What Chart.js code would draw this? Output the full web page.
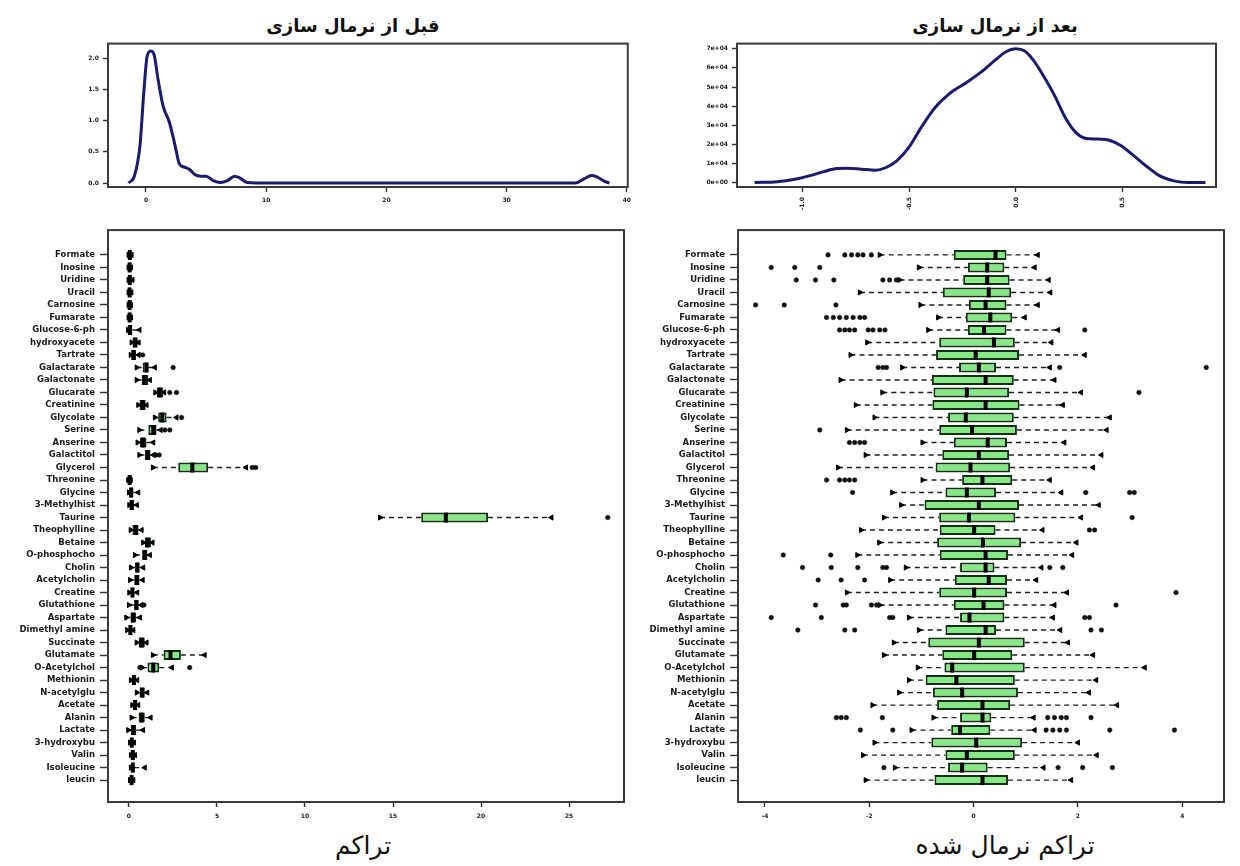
<!DOCTYPE html>
<html>
<head>
<meta charset="utf-8">
<script src="https://cdn.jsdelivr.net/npm/chart.js"></script>
<style>
html,body{margin:0;padding:0;background:#fff;width:1240px;height:866px;overflow:hidden;position:relative}
canvas{position:absolute}
.t{position:absolute;font-family:"DejaVu Sans",sans-serif;color:#111;text-align:center;white-space:nowrap}
</style>
</head>
<body>
<div class="t" dir="rtl" style="left:203px;top:15px;width:300px;font-size:18px;font-weight:bold">قبل از نرمال سازی</div>
<div class="t" dir="rtl" style="left:845px;top:15px;width:300px;font-size:18px;font-weight:bold">بعد از نرمال سازی</div>
<div class="t" dir="rtl" style="left:213px;top:831px;width:300px;font-size:25px">تراکم</div>
<div class="t" dir="rtl" style="left:855px;top:831px;width:300px;font-size:25px">تراکم نرمال شده</div>

<canvas id="c1" width="578" height="181" style="left:58px;top:36px"></canvas>
<canvas id="c2" width="547" height="181" style="left:677px;top:36px"></canvas>
<canvas id="c3" width="633" height="614" style="left:0px;top:220px"></canvas>
<canvas id="c4" width="603" height="614" style="left:630px;top:220px"></canvas>

<script>
// ---------- categories ----------
const metabolites = ["Formate","Inosine","Uridine","Uracil","Carnosine","Fumarate","Glucose-6-ph","hydroxyacete","Tartrate","Galactarate","Galactonate","Glucarate","Creatinine","Glycolate","Serine","Anserine","Galactitol","Glycerol","Threonine","Glycine","3-Methylhist","Taurine","Theophylline","Betaine","O-phosphocho","Cholin","Acetylcholin","Creatine","Glutathione","Aspartate","Dimethyl amine","Succinate","Glutamate","O-Acetylchol","Methionin","N-acetylglu","Acetate","Alanin","Lactate","3-hydroxybu","Valin","Isoleucine","leucin"];

// ---------- raw concentration box plot (left) ----------
const rawLow    = [-0.02,-0.02,-0.02,-0.02,-0.02,-0.02,-0.05,0.15,0.10,0.44,0.44,1.50,0.53,1.47,0.59,0.49,0.59,1.36,-0.04,0.00,0.02,14.26,0.10,0.81,0.34,0.11,0.06,0.02,0.00,-0.15,-0.10,0.44,1.36,0.75,0.11,0.45,0.19,0.15,-0.04,0.06,0.11,0.11,0.06];
const rawQ1     = [0,0,0,0,0,0,0,0.20,0.15,0.78,0.72,1.57,0.60,1.66,1.10,0.62,0.91,2.80,0,0.02,0.05,16.60,0.20,0.90,0.75,0.35,0.30,0.10,0.30,0.10,0,0.55,1.97,1.05,0.20,0.60,0.25,0.55,0.10,0.10,0.15,0.15,0.10];
const rawMedian = [0.05,0.04,0.05,0.04,0.04,0.04,0.05,0.35,0.25,1.00,0.90,1.75,0.78,1.89,1.38,0.80,1.06,3.60,0.04,0.12,0.15,18.00,0.40,1.05,0.90,0.48,0.45,0.20,0.42,0.22,0.08,0.72,2.36,1.38,0.28,0.75,0.35,0.72,0.25,0.16,0.22,0.22,0.15];
const rawQ3     = [0.10,0.08,0.10,0.08,0.08,0.08,0.20,0.50,0.40,1.10,1.10,1.95,0.95,2.14,1.57,1.00,1.23,4.50,0.08,0.25,0.30,20.40,0.55,1.25,1.05,0.60,0.60,0.30,0.55,0.40,0.15,0.90,2.95,1.72,0.35,0.90,0.45,0.90,0.40,0.22,0.28,0.30,0.20];
const rawHigh   = [0.15,0.12,0.20,0.14,0.12,0.12,0.60,0.55,0.55,1.47,1.19,2.00,1.00,2.70,1.80,1.38,1.40,6.65,0.10,0.53,0.45,24.00,0.72,1.34,1.19,0.81,0.78,0.47,0.70,0.62,0.25,1.00,4.30,2.44,0.47,1.04,0.53,1.23,0.80,0.28,0.34,0.90,0.25];
const rawOutliers = [[],[],[],[],[],[],[],[],[0.78],[2.51],[],[2.32,2.70],[],[2.99],[2.04,2.32],[],[1.53,1.72],[7.0,7.2],[],[],[],[27.2],[],[],[],[],[],[],[0.85],[],[],[],[],[0.62,3.45],[],[],[],[],[],[],[],[],[]];
const rawBoxTicks = [0,5,10,15,20,25];

// ---------- normalized box plot (right) ----------
const normLow    = [-1.80,-1.05,-1.42,-2.18,-1.02,-0.68,-0.87,-2.04,-2.36,-1.37,-2.55,-1.75,-2.26,-1.90,-2.43,-0.98,-2.07,-2.60,-0.98,-1.56,-1.39,-1.72,-2.16,-1.81,-2.23,-1.30,-1.60,-2.43,-1.80,-1.24,-1.05,-1.53,-1.72,-1.07,-1.24,-1.43,-1.94,-0.77,-1.19,-1.90,-2.12,-1.51,-2.07];
const normQ1     = [-0.38,-0.11,-0.20,-0.59,-0.09,-0.15,-0.11,-0.66,-0.72,-0.28,-0.80,-0.77,-0.79,-0.49,-0.66,-0.38,-0.60,-0.73,-0.22,-0.54,-0.94,-0.66,-0.65,-0.70,-0.65,-0.26,-0.36,-0.66,-0.38,-0.26,-0.54,-0.87,-0.60,-0.56,-0.92,-0.78,-0.70,-0.26,-0.43,-0.81,-0.54,-0.49,-0.75];
const normMedian = [0.42,0.26,0.26,0.29,0.23,0.32,0.20,0.39,0.04,0.10,0.23,-0.13,0.23,-0.15,-0.03,0.27,0.10,-0.06,0.17,-0.13,0.10,-0.09,0.01,0.18,0.23,0.23,0.29,0.01,0.19,-0.08,0.23,0.10,0.01,-0.41,-0.33,-0.22,0.17,0.17,-0.26,0.05,-0.13,-0.22,0.17];
const normQ3     = [0.63,0.59,0.69,0.72,0.63,0.74,0.63,0.79,0.87,0.43,0.77,0.68,0.88,0.77,0.83,0.64,0.68,0.70,0.74,0.43,0.87,0.80,0.42,0.91,0.66,0.40,0.64,0.64,0.59,0.59,0.43,0.98,0.74,0.98,0.79,0.85,0.70,0.34,0.32,0.93,0.79,0.27,0.66];
const normHigh   = [1.23,1.17,1.44,1.47,1.23,0.98,1.62,1.49,2.13,1.46,1.55,2.06,1.71,2.61,2.55,1.74,2.45,2.29,1.46,1.68,2.40,2.06,1.32,1.97,1.89,1.30,1.20,1.79,1.55,1.52,1.66,1.81,2.29,3.28,2.35,2.21,2.75,1.15,1.17,2.00,2.36,1.34,1.87];
const normOutliers = [
  [-2.79,-2.47,-2.34,-2.22,-2.12,-1.96],
  [-3.88,-3.43,-2.95],
  [-3.40,-3.03,-2.68,-1.74,-1.61,-1.48],
  [],
  [-4.18,-3.63,-2.64],
  [-2.82,-2.69,-2.57,-2.44,-2.31,-2.18,-2.09],
  [-2.57,-2.47,-2.38,-2.28,-2.02,-1.93,-1.80,-1.70,2.13],
  [],
  [],
  [-1.83,-1.74,-1.67,1.65,4.46],
  [],
  [3.17],
  [],
  [],
  [-2.95],
  [-2.38,-2.28,-2.18,-2.09],
  [],
  [],
  [-2.82,-2.57,-2.47,-2.38,-2.28],
  [-2.32,2.15,2.99,3.08],
  [],
  [3.04],
  [2.22,2.32],
  [],
  [-3.65,-2.74],
  [-3.28,-2.73,-2.22,-1.74,-1.67,1.46,1.71],
  [-2.98,-2.54,-2.09],
  [3.88],
  [-3.03,-2.50,-2.44,-1.96,-1.86,2.73],
  [-3.88,-2.92,-1.61,-1.55,2.13,2.22],
  [-3.37,-2.47,-2.28,2.25,2.45],
  [],[],[],[],[],[],
  [-2.63,-2.54,-2.44,-1.75,1.42,1.55,1.68,1.78,2.25],
  [-2.17,-1.55,1.39,1.52,1.65,1.78,2.61,3.85],
  [],[],
  [-1.72,1.62,2.09,2.66],
  []
];
const normBoxTicks = [-4,-2,0,2,4];

// ---------- density before normalization (top left) ----------
const densRawX = [-1.45,-0.95,-0.50,-0.20,0.09,0.39,0.69,0.99,1.43,1.94,2.41,2.77,3.13,3.60,4.11,4.55,5.00,5.59,6.19,6.78,7.37,7.82,8.41,10.2,20,30,35.73,36.47,37.07,37.51,38.11,38.55];
const densRawY = [0,0.12,0.60,1.41,2.03,2.12,2.05,1.68,1.23,0.98,0.61,0.31,0.26,0.22,0.13,0.11,0.11,0.04,0.01,0.04,0.11,0.08,0.01,0,0,0,0,0.07,0.12,0.10,0.03,0];
const densRawTicksX = [0,10,20,30,40];
const densRawTicksY = [0,0.5,1,1.5,2];

// ---------- density after normalization (top right) ----------
const densNormX = [-1.225,-1.118,-1.036,-0.970,-0.905,-0.839,-0.789,-0.724,-0.658,-0.609,-0.559,-0.502,-0.444,-0.378,-0.313,-0.230,-0.164,-0.099,-0.049,0,0.041,0.082,0.132,0.181,0.230,0.280,0.329,0.378,0.444,0.493,0.543,0.609,0.674,0.740,0.806,0.888];
const densNormY = [0,500,1800,3500,5600,7400,7500,7000,6500,7900,11400,18400,28900,39400,46400,52500,57800,63900,68300,70000,68800,63900,55200,45500,34200,26300,23100,22800,21900,19300,14900,8800,3500,900,0,0];
const densNormTicksX = [-1,-0.5,0,0.5];
const densNormTicksY = [0,10000,20000,30000,40000,50000,60000,70000];

// ---------- drawing ----------
const FONT = '"DejaVu Sans", "Liberation Sans", sans-serif';
const framePlugin = {
  id: 'frame',
  afterDraw(chart) {
    const {ctx, chartArea: a} = chart;
    ctx.save();
    ctx.strokeStyle = '#3a3a3a';
    ctx.lineWidth = 2;
    ctx.strokeRect(a.left, a.top, a.right - a.left, a.bottom - a.top);
    ctx.restore();
  }
};
function fixedTicks(values) { return axis => { axis.ticks = values.map(v => ({value: v})); }; }
function expFmt(v) { if (v === 0) return '0e+00'; return v.toExponential(0).replace(/e([+-])(\d)$/, 'e$10$2'); }

function axisCfg(o) {
  return {
    type: 'linear', min: o.range[0], max: o.range[1], reverse: !!o.reverse, offset: false,
    afterBuildTicks: fixedTicks(o.ticks),
    afterFit: o.fit,
    grid: {display: true, offset: false, drawOnChartArea: false, drawTicks: true, tickLength: o.tickLength || 5, color: '#333', tickWidth: 1.4},
    border: {display: false},
    ticks: {autoSkip: false, font: {family: FONT, size: o.fontSize || 6, weight: 'bold'}, color: '#1a1a1a',
            padding: o.padding || 4, callback: o.fmt, minRotation: o.rot || 0, maxRotation: o.rot || 0}
  };
}

function densityChart(id, xs, ys, xRange, yRange, xTicks, yTicks, xFmt, yFmt, yW, xH, rot) {
  return new Chart(document.getElementById(id), {
    type: 'scatter',
    data: {datasets: [{
      type: 'line', data: xs.map((x, i) => ({x: x, y: ys[i]})),
      borderColor: '#1b1b6e', borderWidth: 3, pointRadius: 0, cubicInterpolationMode: 'monotone', fill: false
    }]},
    options: {
      responsive: false, animation: false,
      layout: {padding: {top: 6, right: 8, left: 0, bottom: 0}},
      plugins: {legend: {display: false}, tooltip: {enabled: false}},
      scales: {
        x: axisCfg({range: xRange, ticks: xTicks, fmt: xFmt, rot: rot, fit: s => { s.height = xH; }, padding: 5}),
        y: axisCfg({range: yRange, ticks: yTicks, fmt: yFmt, fit: s => { s.width = yW; }, padding: 4, tickLength: 5})
      }
    },
    plugins: [framePlugin]
  });
}

function boxChart(id, lo, q1, med, q3, hi, outl, xRange, xTicks, yW) {
  const rows = metabolites.map((_, i) => i);
  const whisk = [];
  rows.forEach(i => {
    whisk.push({x: lo[i], y: i}, {x: q1[i], y: i}, {x: null, y: i},
               {x: q3[i], y: i}, {x: hi[i], y: i}, {x: null, y: i});
  });
  const outPts = [];
  rows.forEach(i => outl[i].forEach(v => outPts.push({x: v, y: i})));
  return new Chart(document.getElementById(id), {
    type: 'scatter',
    data: {datasets: [
      {type: 'line', data: whisk, borderColor: '#1e1e1e', borderWidth: 1.4, borderDash: [5, 4],
       pointRadius: 0, spanGaps: false, fill: false, order: 5},
      {type: 'bar', indexAxis: 'y', data: rows.map(i => ({y: i, x: [q1[i], q3[i]]})),
       backgroundColor: '#86e886', borderColor: '#163016', borderWidth: 2, borderSkipped: false,
       barPercentage: 0.8, categoryPercentage: 1, order: 4},
      {type: 'scatter', data: rows.map(i => ({x: med[i], y: i})), pointStyle: 'line', pointRotation: 90,
       pointRadius: 5, pointBorderWidth: 4, pointBorderColor: '#000', order: 3},
      {type: 'scatter', data: rows.map(i => ({x: lo[i], y: i})), pointStyle: 'triangle', pointRotation: 90,
       pointRadius: 3, pointBackgroundColor: '#000', pointBorderColor: '#000', pointBorderWidth: 1, order: 2},
      {type: 'scatter', data: rows.map(i => ({x: hi[i], y: i})), pointStyle: 'triangle', pointRotation: -90,
       pointRadius: 3, pointBackgroundColor: '#000', pointBorderColor: '#000', pointBorderWidth: 1, order: 2},
      {type: 'scatter', data: outPts, pointStyle: 'circle', pointRadius: 2.3,
       pointBackgroundColor: '#111', pointBorderColor: '#111', pointBorderWidth: 0.5, order: 1}
    ]},
    options: {
      responsive: false, animation: false,
      layout: {padding: {top: 6, right: 8, left: 0, bottom: 0}},
      plugins: {legend: {display: false}, tooltip: {enabled: false}},
      scales: {
        x: axisCfg({range: xRange, ticks: xTicks, fmt: v => String(v), fit: s => { s.height = 32; }, padding: 6}),
        y: axisCfg({range: [-1.985, 43.75], reverse: true, ticks: rows, fmt: v => metabolites[v],
                    fit: s => { s.width = yW; }, fontSize: 8.5, tickLength: 8, padding: 5})
      }
    },
    plugins: [framePlugin]
  });
}

densityChart('c1', densRawX, densRawY, [-3.16, 40.08], [-0.064, 2.24], densRawTicksX, densRawTicksY,
  v => String(v), v => v.toFixed(1), 50, 30, 0);
densityChart('c2', densNormX, densNormY, [-1.3076, 0.9375], [-2300, 72700], densNormTicksX, densNormTicksY,
  v => v.toFixed(1), expFmt, 60, 30, 90);
boxChart('c3', rawLow, rawQ1, rawMedian, rawQ3, rawHigh, rawOutliers, [-1.19, 28.12], rawBoxTicks, 108);
boxChart('c4', normLow, normQ1, normMedian, normQ3, normHigh, normOutliers, [-4.517, 4.80], normBoxTicks, 108);
</script>
</body>
</html>
